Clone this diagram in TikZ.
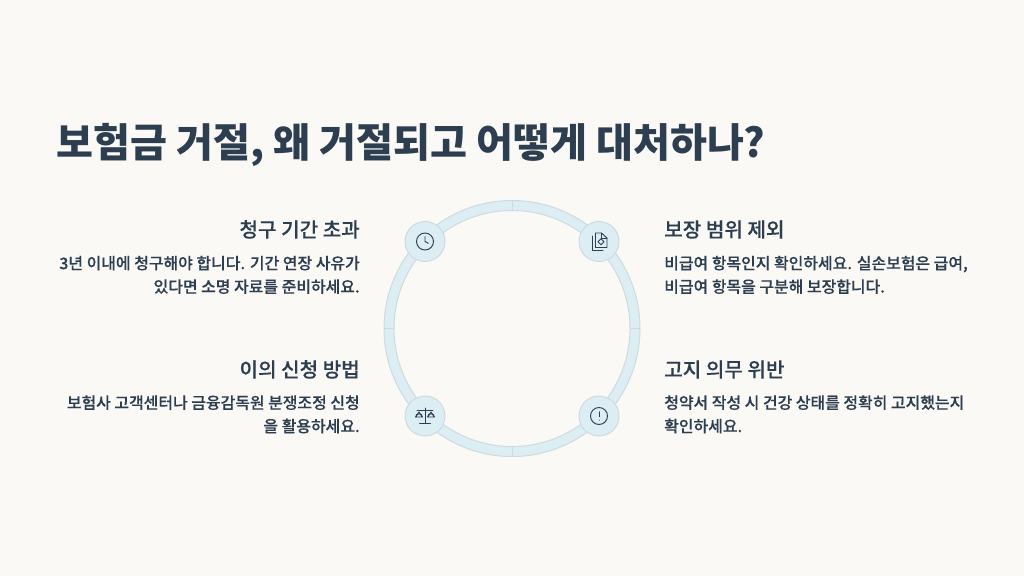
\documentclass[tikz,border=0pt]{standalone}
\usepackage{fontspec}
\setmainfont{Noto Sans CJK KR}
\newfontfamily\medfont[FakeBold=0.12]{Noto Sans CJK KR Medium}
\definecolor{pagebg}{HTML}{FBF9F6}
\definecolor{ringfill}{HTML}{DCEDF3}
\definecolor{ringline}{HTML}{CDDBDF}
\definecolor{inktext}{HTML}{2C3E50}
\tikzset{
  titletext/.style={anchor=base west,inner sep=0pt,text=inktext,font=\fontsize{30.1pt}{36pt}\selectfont\bfseries},
  headtext/.style={inner sep=0pt,text=inktext,font=\fontsize{15.1pt}{18pt}\medfont},
  bodytext/.style={inner sep=0pt,text=inktext,font=\fontsize{11.95pt}{17.6pt}\medfont},
  iconnode/.style={circle,draw=ringline,fill=ringfill,line width=0.75pt,minimum size=30pt,inner sep=0pt},
  iconline/.style={draw=inktext,line width=0.7pt,line cap=round,line join=round},
}
\begin{document}
\begin{tikzpicture}[x=0.75pt,y=-0.75pt]
  \useasboundingbox[fill=pagebg] (0,0) rectangle (1024,576);
  \node[titletext] (title) at (56,157.5) {보험금 거절, 왜 거절되고 어떻게 대처하나?};

  \coordinate (c) at (512,328.5);
  \path[fill=ringfill,even odd rule] (c) circle[radius=128] (c) circle[radius=118];
  \draw[ringline,line width=0.75pt] (c) circle[radius=128] (c) circle[radius=118];
  \draw[ringline,line width=0.75pt] (512,200.5) -- (512,210.5) (512,446.5) -- (512,456.5);
  \draw[ringline,line width=0.75pt] (384,328.5) -- (394,328.5) (630,328.5) -- (640,328.5);

  \node[iconnode] (n1) at (425,241.5) {};
  \node[iconnode] (n2) at (599,241.5) {};
  \node[iconnode] (n3) at (425,416) {};
  \node[iconnode] (n4) at (599,416) {};

  \begin{scope}[shift={(425,241.5)}]
    \draw[iconline] (0,0) circle[radius=8.5];
    \draw[iconline] (0,-5) -- (0,0) -- (3.3,1.8);
  \end{scope}
  \begin{scope}[shift={(599,241.5)}]
    \draw[iconline] (-3.5,-8.5) -- (2.5,-8.5) -- (8,-3.5) -- (8,6) -- (-3.5,6) -- cycle;
    \draw[iconline] (2.5,-8.5) -- (2.5,-3.5) -- (8,-3.5);
    \draw[iconline] (-7,-5.5) -- (-7,9) -- (4,9);
    \draw[iconline] (2,-2.7) -- (5,0.3) -- (2,3.3) -- (-1,0.3) -- cycle;
  \end{scope}
  \begin{scope}[shift={(425,416)}]
    \draw[iconline] (0,-8) -- (0,7.5) (-5.5,7.5) -- (5.5,7.5) (-8,-6) -- (8,-6);
    \draw[iconline] (-6,-4) -- (-9.3,1) -- (-2.7,1) -- cycle;
    \draw[iconline] (-9.3,1) arc[start angle=180,end angle=360,radius=3.3];
    \draw[iconline] (6,-4) -- (2.7,1) -- (9.3,1) -- cycle;
    \draw[iconline] (2.7,1) arc[start angle=180,end angle=360,radius=3.3];
  \end{scope}
  \begin{scope}[shift={(599,416)}]
    \draw[iconline] (0,0) circle[radius=8.5];
    \draw[iconline] (0,-4.2) -- (0,0.6) (0,4) -- (0,4.2);
  \end{scope}

  \node[headtext,anchor=base east] (h1) at (360,237) {청구 기간 초과};
  \node[bodytext,anchor=north east,align=right] (b1) at (360,255.5) {3년 이내에 청구해야 합니다. 기간 연장 사유가\\있다면 소명 자료를 준비하세요.};
  \node[headtext,anchor=base west] (h2) at (664,237) {보장 범위 제외};
  \node[bodytext,anchor=north west,align=left] (b2) at (664,255.5) {비급여 항목인지 확인하세요. 실손보험은 급여,\\비급여 항목을 구분해 보장합니다.};
  \node[headtext,anchor=base east] (h3) at (360,377) {이의 신청 방법};
  \node[bodytext,anchor=north east,align=right] (b3) at (360,395) {보험사 고객센터나 금융감독원 분쟁조정 신청\\을 활용하세요.};
  \node[headtext,anchor=base west] (h4) at (664,377) {고지 의무 위반};
  \node[bodytext,anchor=north west,align=left] (b4) at (664,395) {청약서 작성 시 건강 상태를 정확히 고지했는지\\확인하세요.};
\end{tikzpicture}
\end{document}
